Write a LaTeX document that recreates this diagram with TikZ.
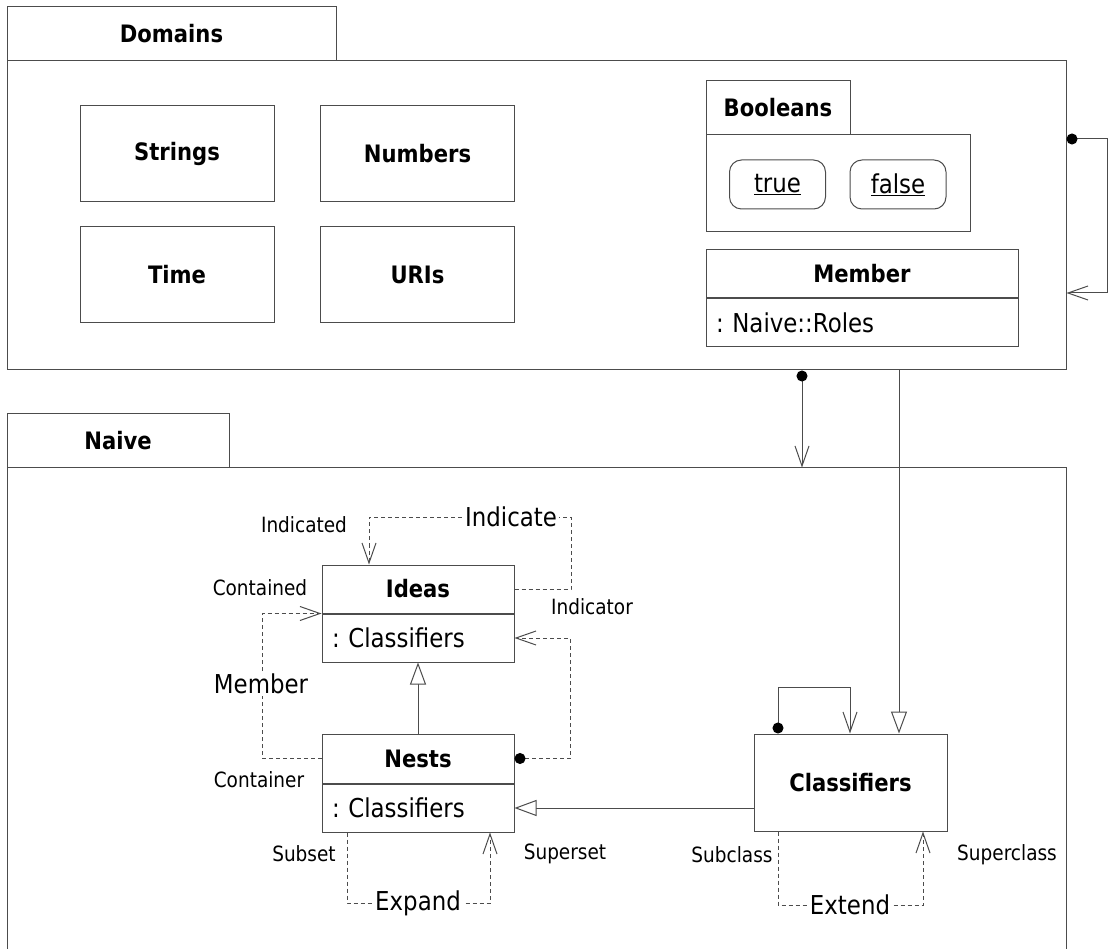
\documentclass[tikz,border=0pt]{standalone}
\usepackage{fontspec}
\setmainfont{DejaVu Sans}[FakeStretch=0.88]
\usetikzlibrary{positioning,arrows.meta}

\newcommand{\namefont}{\fontsize{24}{28}\selectfont\bfseries}
\newcommand{\labelfont}{\fontsize{26}{30}\selectfont}
\newcommand{\rolefont}{\fontsize{21}{25}\selectfont}

\tikzset{
  outline/.style={draw=black!70, line width=1pt},
  pkgtab/.style={outline, minimum width=#1, minimum height=54pt, inner sep=0pt, font=\namefont},
  pkgbody/.style 2 args={outline, minimum width=#1, minimum height=#2, inner sep=0pt},
  classbox/.style 2 args={outline, minimum width=#1, minimum height=#2, inner sep=0pt, font=\namefont},
  attrbox/.style={outline, text width=#1, align=left, inner xsep=10pt, inner ysep=0pt, minimum height=48pt, font=\labelfont},
  literal/.style={outline, rounded corners=12pt, minimum width=96pt, minimum height=49pt, inner sep=0pt, font=\labelfont},
  role/.style={font=\rolefont, inner sep=1pt},
  assoc/.style={font=\labelfont, fill=white, inner sep=2pt},
  link/.style={draw=black!70, line width=1pt},
  dep/.style={link, dash pattern=on 4pt off 3pt},
  barb/.tip={Straight Barb[length=20pt, width=14pt]},
  hollow/.tip={Triangle[open, fill=white, length=22pt, width=16pt]},
  ball/.tip={Circle[length=11pt, color=black]},
}

\begin{document}
\frenchspacing
\begin{tikzpicture}[x=1pt, y=-1pt]
  \useasboundingbox (0,0) rectangle (1109,949);

  % Domains package
  \node[pkgtab=329pt] (domainstab) at (171.5,34) {Domains};
  \node[pkgbody={1059pt}{309pt}] (domains) at (536.5,215.5) {};

  \foreach \name/\txt/\x/\y in {strings/Strings/177/153.5, numbers/Numbers/417.5/153.5,
                                time/Time/177/274.5, uris/URIs/417.5/275}
    \node[classbox={194pt}{96pt}] (\name) at (\x,\y) {\txt};

  \node[pkgtab=144pt] (boolstab) at (778,108) {Booleans};
  \node[pkgbody={264pt}{97pt}] (bools) at (838,183.5) {};
  \node[literal] (truelit) at (777.5,184.5) {\underline{true}};
  \node[literal] (falselit) at (898,184.5) {\underline{false}};

  \node[classbox={312pt}{48pt}] (member) at (862,274) {Member};
  \node[attrbox=292pt, below=0pt of member] (memberattr) {: Naive::Roles};

  % Naive package
  \node[pkgtab=222pt] (naivetab) at (118,441) {Naive};
  \node[pkgbody={1059pt}{560pt}] (naive) at (536.5,748) {};

  \node[classbox={192pt}{48pt}] (ideas) at (418,589) {Ideas};
  \node[attrbox=172pt, below=0pt of ideas] (ideasattr) {: Classifiers};
  \node[classbox={192pt}{49pt}] (nests) at (418,758.5) {Nests};
  \node[attrbox=172pt, below=0pt of nests] (nestsattr) {: Classifiers};
  \node[classbox={193pt}{97pt}] (classifiers) at (850.5,782.5) {Classifiers};

  % Domains to itself and to Naive
  \coordinate (dtop) at (1107,139);
  \coordinate (dbot) at (1107,293);
  \draw[link, ball-barb] (domains.east |- dtop) -- (dtop) -- (dbot) -- (domains.east |- dbot);
  \coordinate (dn) at (802,0);
  \draw[link, ball-barb] (domains.south -| dn) -- (naive.north -| dn);
  \coordinate (dc) at (899,0);
  \draw[link, -hollow] (domains.south -| dc) -- (classifiers.north -| dc);

  % Indicate
  \coordinate (ia) at (571,517);
  \coordinate (ib) at (369,517);
  \draw[dep, -barb] (ideas.east) -| (ia) -- (ib) -- (ideas.north -| ib);
  \node[assoc] (indicate) at (511,517) {Indicate};
  \node[role] (indicated) at (304,525) {Indicated};
  \node[role] (indicator) at (592,607) {Indicator};

  % Member
  \coordinate (ma) at (262,0);
  \draw[dep, -barb] (nests.west) -| (ma |- ideas.south) -- (ideas.south west);
  \node[assoc] (membership) at (261,684) {Member};
  \node[role] (contained) at (260,588) {Contained};
  \node[role] (container) at (259,780) {Container};

  \coordinate (na) at (570,0);
  \draw[dep, ball-barb] (nests.east) -| (na |- ideasattr.east) -- (ideasattr.east);

  % generalisations
  \draw[link, -hollow] (nests.north) -- (ideasattr.south);
  \draw[link, -hollow] (classifiers.west |- nestsattr.east) -- (nestsattr.east);

  % Expand
  \coordinate (ea) at (347,903);
  \coordinate (eb) at (490,903);
  \draw[dep, -barb] (nestsattr.south -| ea) -- (ea) -- (eb) -- (nestsattr.south -| eb);
  \node[assoc] (expand) at (418,903) {Expand};
  \node[role] (subset) at (304,854) {Subset};
  \node[role] (superset) at (565,854) {Superset};

  % Classifiers to itself
  \coordinate (ca) at (778,687);
  \coordinate (cb) at (850,687);
  \draw[link, ball-barb] (classifiers.north -| ca) -- (ca) -- (cb) -- (classifiers.north -| cb);

  % Extend
  \coordinate (xa) at (778,905);
  \coordinate (xb) at (923,905);
  \draw[dep, -barb] (classifiers.south -| xa) -- (xa) -- (xb) -- (classifiers.south -| xb);
  \node[assoc] (extend) at (850,905) {Extend};
  \node[role] (subclass) at (732,855) {Subclass};
  \node[role] (superclass) at (1007,855) {Superclass};
\end{tikzpicture}
\end{document}
